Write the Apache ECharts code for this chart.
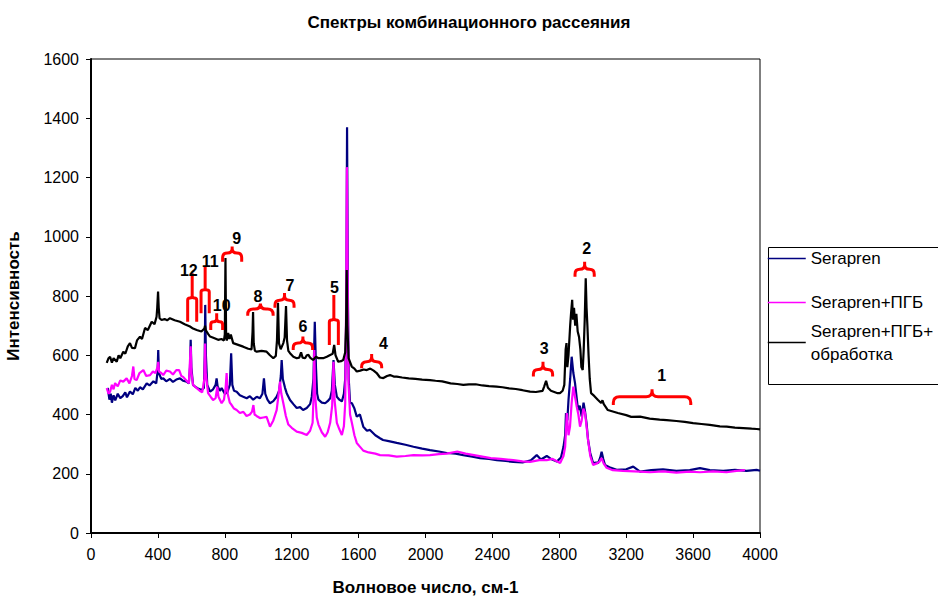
<!DOCTYPE html>
<html>
<head>
<meta charset="utf-8">
<title>Спектры комбинационного рассеяния</title>
<script src="https://cdn.jsdelivr.net/npm/echarts@6/dist/echarts.min.js"></script>
<style>html,body{margin:0;padding:0;background:#fff;}#main{width:938px;height:599px;}</style>
</head>
<body>
<div id="main"></div>
<script>
// values: [wavenumber, intensity]
const serapren = [[100,490],[110,450],[118,470],[125,440],[135,465],[145,448],[160,470],[175,455],[190,462],[205,475],[215,458],[233,478],[250,468],[265,490],[280,480],[293,492],[310,485],[333,505],[350,498],[373,512],[390,505],[398,545],[402,618],[406,540],[420,520],[432,522],[450,512],[472,520],[490,510],[510,518],[532,522],[550,514],[572,511],[585,505],[592,560],[596,652],[600,560],[610,500],[622,494],[640,488],[662,483],[675,490],[680,600],[683,770],[687,600],[695,500],[712,477],[730,485],[745,500],[751,522],[757,495],[770,480],[781,489],[800,470],[815,475],[830,500],[838,607],[845,500],[855,480],[871,477],[890,465],[910,460],[931,455],[950,462],[970,450],[991,460],[1010,455],[1025,470],[1034,522],[1042,470],[1055,450],[1070,438],[1090,445],[1110,460],[1125,480],[1135,530],[1140,584],[1147,520],[1160,490],[1170,472],[1190,449],[1210,435],[1230,422],[1250,425],[1268,415],[1290,422],[1310,435],[1320,460],[1330,520],[1338,713],[1345,560],[1352,470],[1360,450],[1380,440],[1400,438],[1415,445],[1430,455],[1440,480],[1450,584],[1458,500],[1470,460],[1485,450],[1500,444],[1512,470],[1520,520],[1526,700],[1531,1370],[1536,800],[1541,520],[1549,440],[1560,438],[1575,420],[1589,393],[1608,400],[1628,359],[1650,345],[1668,348],[1700,330],[1728,320],[1746,314],[1780,310],[1828,304],[1880,298],[1928,291],[1980,285],[2027,280],[2080,275],[2127,270],[2180,268],[2226,263],[2280,258],[2326,253],[2380,250],[2426,246],[2480,243],[2525,240],[2580,238],[2630,245],[2665,263],[2690,248],[2725,260],[2750,250],[2785,241],[2810,255],[2825,291],[2835,330],[2840,405],[2848,380],[2855,449],[2865,520],[2874,595],[2884,540],[2894,506],[2903,460],[2912,415],[2922,430],[2934,393],[2945,440],[2954,410],[2963,370],[2972,314],[2985,270],[3002,236],[3020,238],[3032,236],[3045,255],[3053,274],[3063,250],[3073,230],[3100,222],[3143,213],[3200,215],[3242,224],[3283,207],[3350,212],[3420,215],[3500,210],[3580,212],[3641,219],[3700,212],[3780,210],[3850,213],[3920,210],[3980,213],[4000,210]];

const serapren_pgb = [[94,489],[105,470],[114,477],[125,500],[135,485],[144,506],[160,495],[175,515],[193,511],[213,522],[230,505],[245,530],[253,562],[260,520],[273,516],[290,540],[313,550],[330,530],[353,533],[370,545],[385,540],[398,560],[402,578],[407,545],[420,540],[432,533],[450,548],[472,545],[490,535],[510,550],[527,550],[540,530],[551,527],[570,515],[585,505],[590,560],[596,630],[601,540],[610,500],[632,489],[650,480],[665,475],[678,520],[682,640],[686,540],[700,472],[715,460],[730,449],[745,455],[755,494],[762,460],[781,438],[795,450],[805,490],[811,540],[817,470],[830,440],[841,432],[855,420],[871,415],[890,405],[911,409],[930,395],[950,400],[963,410],[971,432],[978,400],[990,395],[1010,388],[1030,390],[1050,392],[1070,359],[1090,380],[1110,415],[1120,460],[1130,511],[1138,470],[1150,438],[1165,395],[1180,366],[1200,355],[1230,342],[1260,338],[1290,331],[1310,345],[1325,372],[1330,450],[1335,618],[1340,470],[1350,390],[1360,366],[1380,340],[1400,325],[1415,340],[1430,372],[1442,430],[1450,578],[1456,450],[1470,372],[1485,350],[1500,331],[1512,360],[1520,438],[1526,800],[1530,1235],[1534,900],[1540,500],[1549,400],[1560,371],[1575,330],[1589,304],[1610,290],[1628,278],[1660,272],[1700,268],[1728,263],[1780,262],[1828,258],[1880,260],[1928,263],[1980,262],[2027,263],[2080,266],[2127,268],[2190,275],[2240,268],[2290,263],[2340,258],[2390,253],[2450,250],[2525,246],[2580,242],[2625,240],[2680,246],[2725,246],[2760,250],[2805,236],[2825,260],[2835,291],[2845,405],[2855,330],[2864,359],[2874,440],[2884,494],[2894,460],[2904,427],[2914,400],[2924,359],[2934,380],[2944,420],[2954,405],[2963,360],[2972,314],[2985,260],[3002,230],[3025,235],[3040,240],[3053,253],[3065,235],[3083,220],[3120,212],[3180,210],[3283,207],[3342,205],[3420,208],[3500,204],[3580,207],[3641,205],[3720,208],[3800,205],[3860,210],[3910,212]];

const serapren_pgb_treated = [[94,574],[105,590],[114,595],[125,575],[135,590],[154,578],[165,600],[175,590],[193,612],[205,605],[220,630],[233,641],[245,625],[263,624],[275,650],[293,663],[305,655],[323,692],[340,685],[363,713],[380,705],[392,730],[396,760],[401,815],[405,760],[410,725],[422,719],[440,722],[455,718],[472,725],[500,718],[532,713],[560,705],[592,697],[610,690],[632,685],[660,680],[678,690],[682,700],[686,685],[700,672],[712,663],[735,658],[760,652],[780,655],[795,650],[800,670],[804,928],[808,660],[812,650],[820,675],[828,655],[836,670],[850,641],[880,635],[910,629],[940,622],[960,620],[966,680],[969,746],[973,640],[980,615],[991,612],[1020,615],[1050,612],[1070,600],[1090,590],[1105,598],[1112,650],[1118,777],[1124,640],[1134,620],[1150,641],[1158,660],[1166,766],[1172,650],[1180,615],[1190,607],[1210,595],[1230,590],[1245,592],[1256,610],[1265,592],[1280,590],[1290,600],[1300,601],[1310,592],[1328,584],[1345,595],[1360,590],[1388,590],[1410,595],[1430,601],[1445,605],[1454,635],[1462,600],[1478,578],[1495,580],[1508,584],[1520,610],[1525,700],[1529,888],[1533,700],[1540,590],[1559,562],[1575,555],[1589,545],[1610,548],[1630,552],[1649,550],[1670,555],[1690,548],[1708,540],[1728,525],[1748,523],[1770,530],[1788,533],[1810,528],[1828,528],[1860,525],[1900,522],[1940,520],[1980,518],[2027,516],[2060,514],[2100,512],[2150,505],[2190,503],[2226,500],[2260,502],[2300,502],[2340,498],[2380,496],[2425,494],[2460,492],[2500,488],[2540,486],[2580,482],[2625,477],[2660,476],[2700,480],[2710,495],[2721,514],[2732,490],[2750,480],[2770,476],[2790,472],[2804,472],[2820,480],[2830,500],[2838,620],[2843,641],[2848,560],[2855,600],[2865,700],[2870,740],[2877,787],[2882,720],[2888,760],[2895,700],[2902,740],[2910,680],[2918,662],[2926,620],[2932,560],[2940,550],[2946,620],[2952,720],[2958,860],[2963,760],[2968,700],[2975,600],[2982,520],[2990,472],[3010,462],[3030,450],[3050,439],[3058,448],[3066,435],[3090,415],[3120,410],[3150,405],[3200,398],[3230,392],[3283,393],[3340,386],[3400,383],[3442,381],[3500,378],[3550,375],[3600,371],[3650,368],[3700,365],[3760,360],[3801,359],[3850,356],[3900,354],[3950,352],[3980,351],[4000,350]];

// red braces: [x left, x right, y of ends, y of bar, y of tip]
const braces = [
  [578, 632, 713, 793, 877],
  [658, 707, 742, 820, 899],
  [716, 787, 685, 713, 742],
  [787, 901, 916, 945, 967],
  [937, 1089, 733, 756, 775],
  [1100, 1214, 760, 786, 810],
  [1209, 1325, 618, 641, 663],
  [1425, 1479, 635, 719, 803],
  [1618, 1738, 556, 578, 604],
  [2645, 2760, 528, 552, 578],
  [2894, 3009, 865, 890, 916],
  [3123, 3586, 432, 460, 485]
];
const braceNames = ['12', '11', '10', '9', '8', '7', '6', '5', '4', '3', '2', '1'];
const braceLabelX = [585, 712, 781, 871, 998, 1190, 1268, 1455, 1748, 2709, 2964, 3412];
const braceLabelY = [886, 916, 768, 994, 797, 836, 696, 830, 640, 622, 960, 532];

const xTicks = {min: 0, max: 4000, step: 400};
const yTicks = {min: 0, max: 1600, step: 200};

const names = ['Serapren', 'Serapren+ПГБ', 'Serapren+ПГБ+обработка'];

const braceData = braces.map((b, i) => b.concat([braceLabelX[i], braceLabelY[i], braceNames[i]]));

function renderBrace(params, api) {
  const l = api.coord([api.value(0), api.value(2)]);
  const r = api.coord([api.value(1), api.value(2)]);
  const bar = api.coord([api.value(0), api.value(3)])[1];
  const tip = api.coord([api.value(0), api.value(4)])[1];
  const lab = api.coord([api.value(5), api.value(6)]);
  const x0 = l[0], x1 = r[0], yE = l[1], xm = (x0 + x1) / 2;
  const rad = Math.max(2, Math.min(6, (xm - x0) / 2, yE - bar, bar - tip));
  const d = 'M' + x0 + ',' + yE + 'L' + x0 + ',' + (bar + rad) +
    'Q' + x0 + ',' + bar + ',' + (x0 + rad) + ',' + bar +
    'L' + (xm - rad) + ',' + bar + 'Q' + xm + ',' + bar + ',' + xm + ',' + (bar - rad) +
    'L' + xm + ',' + tip + 'M' + xm + ',' + (bar - rad) +
    'Q' + xm + ',' + bar + ',' + (xm + rad) + ',' + bar +
    'L' + (x1 - rad) + ',' + bar + 'Q' + x1 + ',' + bar + ',' + x1 + ',' + (bar + rad) +
    'L' + x1 + ',' + yE;
  return {
    type: 'group',
    children: [
      {type: 'path', shape: {pathData: d}, style: {stroke: '#ff0000', lineWidth: 3, fill: null}},
      {type: 'text', x: lab[0], y: lab[1], style: {
        text: api.value(7), fill: '#000', font: 'bold 16px "Liberation Sans", Arial',
        align: 'center', verticalAlign: 'middle'}}
    ]
  };
}

const chart = echarts.init(document.getElementById('main'), null, {renderer: 'svg'});
const lineSeries = (name, data, color) => ({
  name: name, type: 'line', data: data, showSymbol: false, symbol: 'none',
  color: color, lineStyle: {color: color, width: 2.2}, animation: false
});
const legendBase = {
  orient: 'vertical', left: 767, padding: 0, itemWidth: 38, itemHeight: 14,
  lineStyle: {width: 1.5},
  itemStyle: {opacity: 0, color: 'rgba(0,0,0,0)', borderWidth: 0}
};

chart.setOption({
  backgroundColor: '#fff',
  animation: false,
  textStyle: {fontFamily: '"Liberation Sans", Arial'},
  title: {
    text: 'Спектры комбинационного рассеяния', left: 'center', top: 9,
    textStyle: {fontSize: 17, fontWeight: 'bold', color: '#000'}
  },
  grid: {left: 91, right: 178, top: 59, bottom: 66, show: true, borderColor: '#000', borderWidth: 1,
    outerBoundsMode: 'none', containLabel: false},
  legend: [Object.assign({}, legendBase, {
    data: names.slice(0, 2), top: 247, itemGap: 21,
    textStyle: {fontSize: 17, lineHeight: 23, color: '#000'}
  }), Object.assign({}, legendBase, {
    data: names.slice(2), top: 308,
    formatter: n => n.replace('+обработка', '+\nобработка'),
    textStyle: {fontSize: 17, lineHeight: 23, color: '#000', padding: [23, 0, 0, 0]}
  })],
  graphic: [{
    type: 'rect', left: 766, top: 245, shape: {width: 200, height: 137},
    style: {fill: 'none', stroke: '#000', lineWidth: 1}, silent: true
  }],
  xAxis: {
    type: 'value', min: xTicks.min, max: xTicks.max, interval: xTicks.step,
    name: 'Волновое число, см-1', nameLocation: 'middle', nameGap: 46,
    nameTextStyle: {fontSize: 17, fontWeight: 'bold', color: '#000'},
    axisLine: {lineStyle: {color: '#000', width: 2}},
    axisTick: {show: true, length: 5, lineStyle: {color: '#000'}},
    axisLabel: {fontSize: 16, color: '#000', margin: 13, formatter: v => String(v)},
    splitLine: {show: false}
  },
  yAxis: {
    type: 'value', min: yTicks.min, max: yTicks.max, interval: yTicks.step,
    name: 'Интенсивность', nameLocation: 'middle', nameGap: 69, nameRotate: 90,
    nameTextStyle: {fontSize: 17, fontWeight: 'bold', color: '#000'},
    axisLine: {show: true, lineStyle: {color: '#000', width: 2}},
    axisTick: {show: true, length: 5, lineStyle: {color: '#000'}},
    axisLabel: {fontSize: 16, color: '#000', margin: 12, formatter: v => String(v)},
    splitLine: {show: false}
  },
  series: [
    lineSeries(names[0], serapren, '#000080'),
    lineSeries(names[1], serapren_pgb, '#ff00ff'),
    lineSeries(names[2], serapren_pgb_treated, '#000000'),
    {
      type: 'custom', renderItem: renderBrace, data: braceData,
      encode: {x: [0, 1, 5], y: [2, 3, 4, 6]}, silent: true, z: 5
    }
  ]
});
</script>
</body>
</html>
